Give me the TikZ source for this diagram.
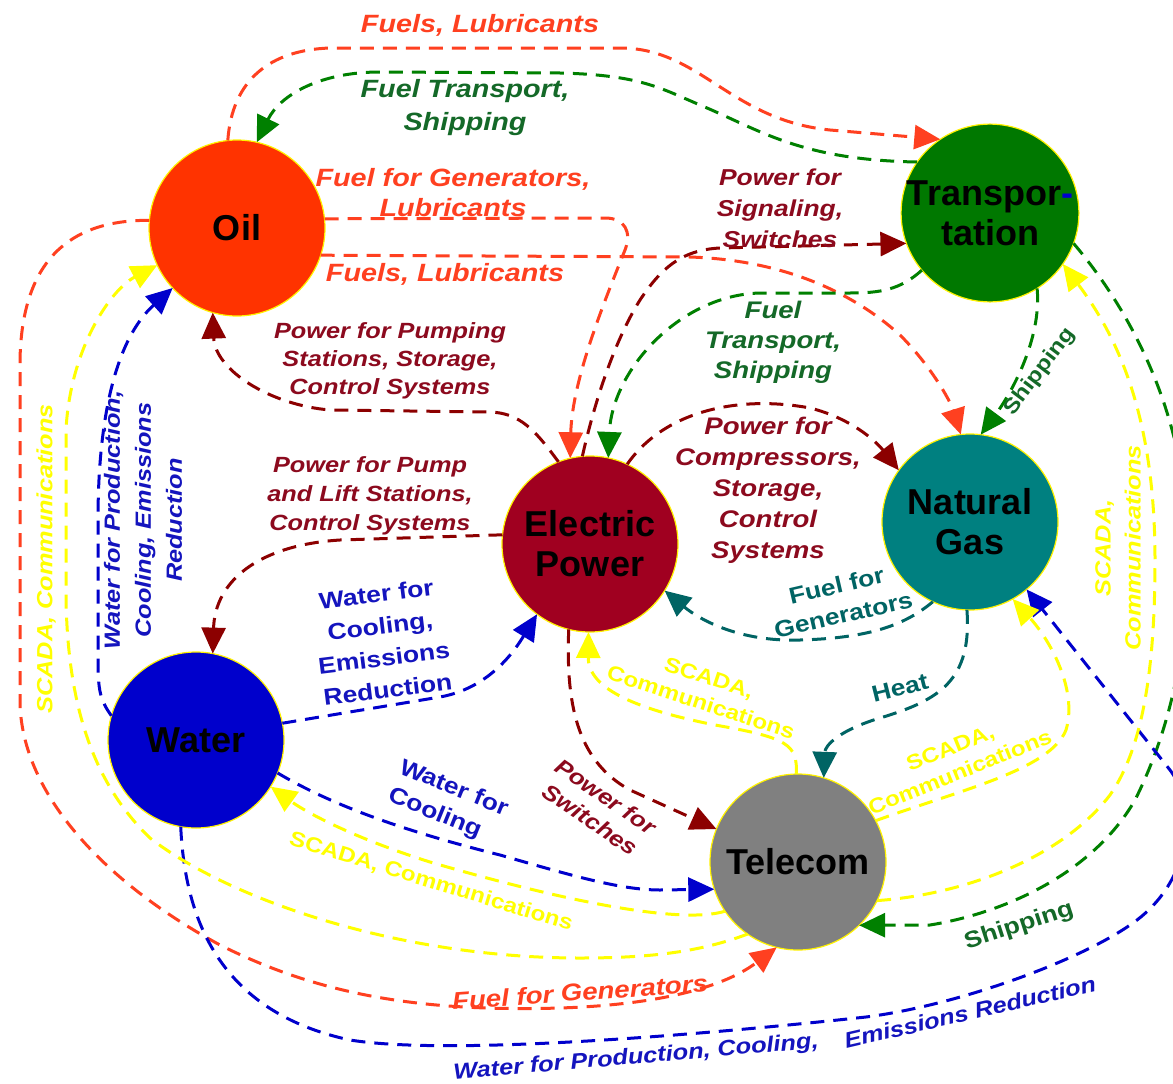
\documentclass[tikz,border=0pt]{standalone}
\usepackage{fontspec}
\setmainfont{Liberation Sans}
\newfontfamily\lblfont{Liberation Sans}[FakeStretch=1.15]
\usetikzlibrary{arrows.meta}
\definecolor{oilc}{RGB}{255,51,0}
\definecolor{transc}{RGB}{0,120,0}
\definecolor{ngc}{RGB}{0,128,128}
\definecolor{epc}{RGB}{160,0,32}
\definecolor{waterc}{RGB}{0,0,204}
\definecolor{telc}{RGB}{128,128,128}
\definecolor{redl}{RGB}{255,64,32}
\definecolor{greenl}{RGB}{0,128,0}
\definecolor{greent}{RGB}{20,105,40}
\definecolor{darkredl}{RGB}{140,0,0}
\definecolor{darkredt}{RGB}{140,10,30}
\definecolor{bluel}{RGB}{0,0,204}
\definecolor{bluet}{RGB}{20,20,190}
\definecolor{teall}{RGB}{0,100,100}
\definecolor{yell}{RGB}{255,255,0}
\tikzset{
  hub/.style={circle, draw=yellow, line width=1.2pt, minimum size=176pt, inner sep=0pt, outer sep=0pt,
    font=\bfseries\fontsize{36}{40}\selectfont, align=center, text=black},
  flow/.style={line width=3pt, dash pattern=on 14pt off 9pt, -{Triangle[length=26pt,width=24pt]}},
  lbl/.style args={#1/#2}{inner sep=0pt, align=center, font=\lblfont\bfseries\itshape\fontsize{#1}{#2}\selectfont},
  lblu/.style args={#1/#2}{inner sep=0pt, align=center, font=\lblfont\bfseries\fontsize{#1}{#2}\selectfont},
}
\begin{document}
\begin{tikzpicture}[x=1pt,y=-1pt]
\useasboundingbox (0,0) rectangle (1173,1084);
\fill[white] (0,0) rectangle (1173,1084);
\clip (0,0) rectangle (1173,1084);

% hubs
\node[hub, fill=oilc] (oil) at (237,228) {Oil};
\node[hub, fill=transc] (trans) at (990,213) {Transpor{\color{bluel}-}\\tation};
\node[hub, fill=ngc] (ng) at (970,522) {Natural\\Gas};
\node[hub, fill=epc] (ep) at (590,544) {Electric\\Power};
\node[hub, fill=waterc] (water) at (196,740) {Water};
\node[hub, fill=telc] (tel) at (798,862) {Telecom};

% Oil (red) outgoing
\draw[flow, redl] (oil.96) .. controls (232,80) and (270,50) .. (330,48) -- (620,48)
  .. controls (700,48) and (730,120) .. (830,130) -- (trans.124);
\draw[flow, redl] (oil.6.5) -- (605,218) .. controls (625,218) and (632,232) .. (625,250)
  .. controls (605,300) and (572,380) .. (ep.103);
\draw[flow, redl] (oil.-18) -- (690,257) .. controls (780,260) and (850,290) .. (900,335)
  .. controls (930,365) and (950,400) .. (ng.96);
\draw[flow, redl] (oil.175) .. controls (80,220) and (22,250) .. (20,360) -- (20,700)
  .. controls (20,790) and (100,880) .. (220,945)
  .. controls (320,995) and (420,1012) .. (560,1008)
  .. controls (650,1005) and (720,990) .. (tel.256);

% Transportation (green) outgoing
\draw[flow, greenl] (trans.145) .. controls (800,160) and (760,130) .. (700,105)
  .. controls (660,88) and (640,75) .. (560,73) -- (380,72)
  .. controls (320,72) and (280,95) .. (oil.77);
\draw[flow, greenl] (trans.220) .. controls (900,290) and (880,293) .. (850,293) -- (760,293)
  .. controls (680,295) and (612,370) .. (ep.78);
\draw[flow, greenl] (trans.302) .. controls (1042,340) and (1010,395) .. (ng.83.5);
\draw[flow, greenl] (trans.340) .. controls (1130,310) and (1175,400) .. (1185,500)
  .. controls (1195,620) and (1175,720) .. (1135,800)
  .. controls (1095,870) and (1010,912) .. (930,925) -- (tel.314);

% Electric Power (dark red) outgoing
\draw[flow, darkredl] (ep.95) .. controls (595,400) and (615,340) .. (640,300)
  .. controls (660,270) and (680,250) .. (720,248) -- (trans.200);
\draw[flow, darkredl] (ep.111) .. controls (535,430) and (520,413) .. (490,412) -- (330,410)
  .. controls (270,405) and (215,370) .. (oil.254);
\draw[flow, darkredl] (ep.174) -- (340,540) .. controls (260,545) and (215,580) .. (water.79);
\draw[flow, darkredl] (ep.65) .. controls (665,410) and (740,395) .. (810,408)
  .. controls (850,418) and (875,440) .. (ng.144);
\draw[flow, darkredl] (ep.256) .. controls (566,700) and (575,760) .. (630,790) -- (tel.158);

% Natural Gas (teal) outgoing
\draw[flow, teall] (ng.245) .. controls (905,625) and (870,638) .. (800,640)
  .. controls (740,642) and (700,620) .. (ep.328);
\draw[flow, teall] (ng.268) .. controls (972,680) and (940,700) .. (880,718)
  .. controls (840,730) and (825,745) .. (tel.73);

% Water (blue) outgoing
\draw[flow, bluel] (water.11) -- (440,697) .. controls (490,688) and (515,650) .. (ep.233);
\draw[flow, bluel] (water.338) .. controls (340,810) and (420,835) .. (500,855)
  .. controls (570,875) and (620,890) .. (660,890) -- (tel.198);
\draw[flow, bluel] (water.164) .. controls (100,700) and (98,690) .. (98,660) -- (98,520)
  .. controls (98,420) and (115,340) .. (oil.223);
\draw[flow, bluel] (water.260) .. controls (185,920) and (220,1012) .. (350,1040)
  .. controls (450,1056) and (700,1035) .. (866,1017)
  .. controls (960,1005) and (1080,960) .. (1130,925)
  .. controls (1190,885) and (1200,810) .. (1170,770) -- (ng.310);

% Telecom (yellow) outgoing
\draw[flow, yell] (tel.214) .. controls (680,925) and (560,900) .. (430,862)
  .. controls (360,840) and (310,815) .. (water.328);
\draw[flow, yell] (tel.91) .. controls (797,745) and (790,738) .. (715,725)
  .. controls (640,710) and (588,690) .. (ep.269);
\draw[flow, yell] (tel.28) .. controls (960,790) and (1050,770) .. (1066,730)
  .. controls (1078,690) and (1050,640) .. (ng.299);
\draw[flow, yell] (tel.334) .. controls (960,895) and (1060,860) .. (1110,795)
  .. controls (1145,745) and (1155,660) .. (1155,560)
  .. controls (1155,420) and (1120,340) .. (trans.325);
\draw[flow, yell] (tel.235) .. controls (700,952) and (650,958) .. (580,958)
  .. controls (400,958) and (230,900) .. (150,838)
  .. controls (90,780) and (68,700) .. (66,600) -- (66,430)
  .. controls (70,350) and (110,290) .. (oil.205);

% labels
\node[lbl=25/30, text=redl] (l1) at (480,25) {Fuels, Lubricants};
\node[lbl=25/33, text=greent] (l2) at (465,108) {Fuel Transport,\\Shipping};
\node[lbl=25/30, text=redl] (l3) at (453,193) {Fuel for Generators,\\Lubricants};
\node[lbl=25/30, text=redl] (l4) at (445,274) {Fuels, Lubricants};
\node[lbl=23/31, text=darkredt] (l5) at (780,208) {Power for\\Signaling,\\Switches};
\node[lbl=22/28, text=darkredt] (l6) at (390,361) {Power for Pumping\\Stations, Storage,\\Control Systems};
\node[lbl=24/30, text=greent] (l7) at (773,342) {Fuel\\Transport,\\Shipping};
\node[lbl=24/31, text=darkredt] (l8) at (768,490) {Power for\\Compressors,\\Storage,\\Control\\Systems};
\node[lbl=22/29, text=darkredt] (l9) at (370,496) {Power for Pump\\and Lift Stations,\\Control Systems};
\node[lblu=23/32, text=bluet, rotate=7] (l10) at (382,642) {Water for\\Cooling,\\Emissions\\Reduction};
\node[lblu=23/30, text=teall, rotate=13] (l11) at (840,600) {Fuel for\\Generators};
\node[lblu=21/26, text=yell, rotate=-18] (l12) at (705,690) {SCADA,\\Communications};
\node[lblu=23/28, text=teall, rotate=14] (l13) at (900,688) {Heat};
\node[lblu=21/26, text=yell, rotate=22] (l14) at (955,760) {SCADA,\\Communications};
\node[lbl=22/28, text=darkredt, rotate=-34] (l15) at (598,808) {Power for\\Switches};
\node[lblu=23/30, text=bluet, rotate=-22, align=left] (l16) at (448,803) {Water for\\Cooling};
\node[lblu=21/26, text=yell, rotate=-17] (l17) at (431,882) {SCADA, Communications};
\node[lblu=23/28, text=greent, rotate=18] (l18) at (1019,926) {Shipping};
\node[lbl=24/28, text=redl, rotate=4] (l19) at (580,992) {Fuel for Generators};
\node[lbl=22/26, text=bluet, rotate=5] (l20a) at (636,1058) {Water for Production, Cooling,};
\node[lbl=22/26, text=bluet, rotate=13] (l20b) at (970,1012) {Emissions Reduction};
\node[lbl=22/30, text=yell, rotate=90] (l21) at (1118,548) {SCADA,\\Communications};
\node[lblu=21/26, text=greent, rotate=53] (l22) at (1040,372) {Shipping};
\node[lbl=22/28, text=yell, rotate=90] (l23) at (46,559) {SCADA, Communications};
\node[lbl=22/31, text=bluet, rotate=90] (l24) at (143,520) {Water for Production,\\Cooling, Emissions\\Reduction};
\end{tikzpicture}
\end{document}
